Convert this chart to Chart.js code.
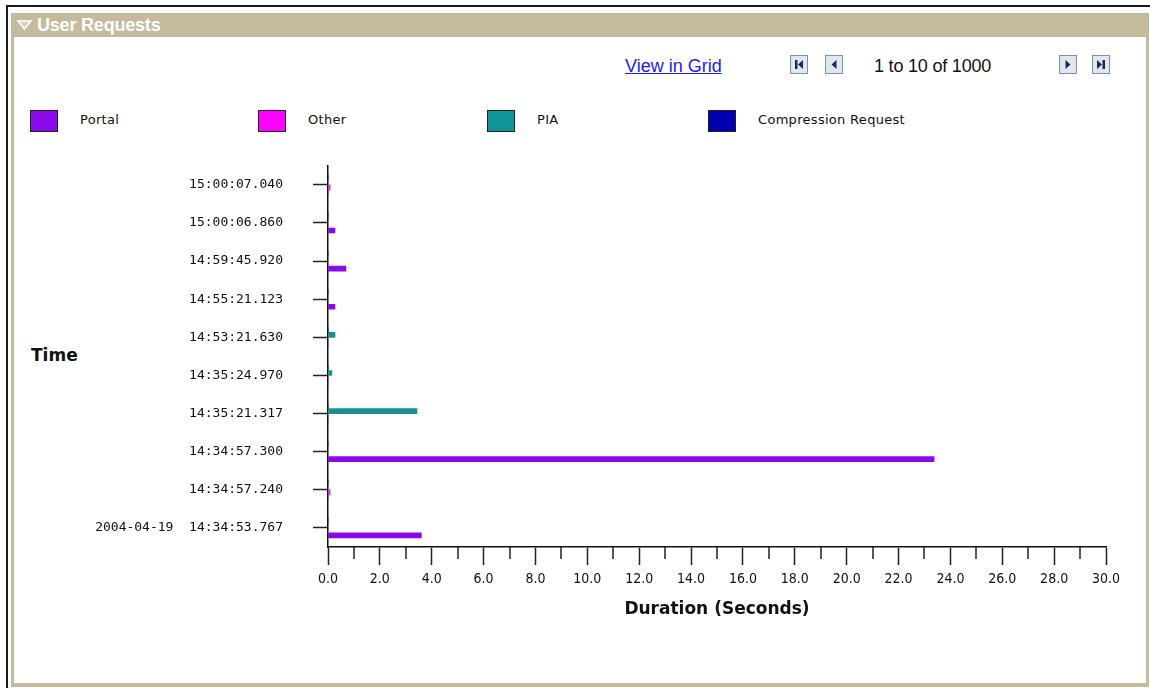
<!DOCTYPE html>
<html>
<head>
<meta charset="utf-8">
<script src="https://cdn.jsdelivr.net/npm/chart.js@4/dist/chart.umd.min.js"></script>
<style>
    body { margin: 0; width: 1150px; height: 688px; overflow: hidden; background: #fff; font-family: "Liberation Sans", Arial, sans-serif; }
    .frame { position: absolute; left: 6px; top: 5px; right: 0; bottom: 0; border-left: 2px solid #1a1a1a; border-top: 2px solid #1a1a1a; }
    .panel { position: absolute; left: 11px; top: 13px; width: 1138px; height: 674px; background: #c4bb9d; }
    .panel .inner { position: absolute; left: 3px; top: 24px; right: 3px; bottom: 4px; background: #fff; }
    .title { position: absolute; top: 15px; color: #fff; font-weight: bold; font-size: 18px; letter-spacing: -0.2px; }
    .tri { position: absolute; left: 16px; top: 18px; }
    .link { position: absolute; left: 625px; top: 56px; font-size: 18px; color: #1a1aff; text-decoration: underline; }
    .pager { position: absolute; top: 56px; font-size: 18px; color: #111; letter-spacing: -0.2px; }
    .btn { position: absolute; top: 55px; width: 16px; height: 17px; border: 1px solid #7f90a8; background: #dfe7f1; }
    .btn svg { position: absolute; left: 0; top: 0; }
    .legend-box { position: absolute; top: 110px; width: 26px; height: 20px; border: 1px solid #222; }
    .legend-text { position: absolute; top: 112px; font-family: "DejaVu Sans", sans-serif; font-size: 13px; color: #111; letter-spacing: 0.3px; }
    .ytitle { position: absolute; left: 31px; top: 345px; font-family: "DejaVu Sans", sans-serif; font-weight: bold; font-size: 17px; color: #111; }
    #wrap { position: absolute; left: 0; top: 128px; }
</style>
</head>
<body>
<div class="frame"></div>
<div class="panel"><div class="inner"></div></div>
<svg class="tri" width="18" height="14"><polygon points="2,3 15,3 8.5,11" fill="#d9d1b9" stroke="#fff" stroke-width="1.5"/></svg>
<div class="title" style="left:37px">User Requests</div>

<div class="link">View in Grid</div>
<div class="btn" style="left:790px"><svg width="16" height="17"><rect x="4" y="4" width="2.5" height="9" fill="#1c2b55"/><polygon points="12,4 12,13 7,8.5" fill="#1c2b55"/></svg></div>
<div class="btn" style="left:825px"><svg width="16" height="17"><polygon points="10.5,4 10.5,13 5.5,8.5" fill="#1c2b55"/></svg></div>
<div class="pager" style="left:874px">1 to 10 of 1000</div>
<div class="btn" style="left:1059px"><svg width="16" height="17"><polygon points="5.5,4 5.5,13 10.5,8.5" fill="#1c2b55"/></svg></div>
<div class="btn" style="left:1092px"><svg width="16" height="17"><polygon points="4,4 4,13 9,8.5" fill="#1c2b55"/><rect x="9.5" y="4" width="2.5" height="9" fill="#1c2b55"/></svg></div>

<div id="legend"></div>
<div class="ytitle">Time</div>

<div id="wrap"><canvas id="chart" width="1140" height="492"></canvas></div>

<script>
// data (durations in seconds)
const categories = ['15:00:07.040', '15:00:06.860', '14:59:45.920', '14:55:21.123', '14:53:21.630',
    '14:35:24.970', '14:35:21.317', '14:34:57.300', '14:34:57.240', '2004-04-19  14:34:53.767'];
const portal = [0, 0.27, 0.69, 0.27, 0, 0, 0, 23.37, 0, 3.6];
const other = [0.08, 0, 0, 0, 0, 0, 0, 0, 0.08, 0];
const pia = [0, 0, 0, 0, 0.27, 0.15, 3.43, 0, 0, 0];
const compression = [0, 0, 0, 0, 0, 0, 0, 0, 0, 0];
const xTicks = [0, 2, 4, 6, 8, 10, 12, 14, 16, 18, 20, 22, 24, 26, 28, 30];

// legend (left to right)
const legendItems = [
    { label: 'Portal', color: '#8a0aea', x: 30 },
    { label: 'Other', color: '#ff00ff', x: 258 },
    { label: 'PIA', color: '#0f9595', x: 487 },
    { label: 'Compression Request', color: '#0000b0', x: 708 }
];
let legendHtml = '';
legendItems.forEach(item => {
    legendHtml += '<div class="legend-box" style="left:' + item.x + 'px;background:' + item.color + '"></div>';
    legendHtml += '<div class="legend-text" style="left:' + (item.x + 50) + 'px">' + item.label + '</div>';
});
document.getElementById('legend').innerHTML = legendHtml;

// short ticks at odd seconds
const minorTicks = {
    id: 'minorTicks',
    afterDraw(chart) {
        const sx = chart.scales.x;
        const ctx = chart.ctx;
        ctx.save();
        ctx.strokeStyle = '#222';
        ctx.lineWidth = 1.5;
        for (let v = 1; v < 30; v += 2) {
            const px = Math.round(sx.getPixelForValue(v));
            ctx.beginPath();
            ctx.moveTo(px, sx.top);
            ctx.lineTo(px, sx.top + 12);
            ctx.stroke();
        }
        ctx.restore();
    }
};

new Chart(document.getElementById('chart'), {
    type: 'bar',
    data: {
        labels: categories,
        datasets: [
            { label: 'Compression Request', data: compression, backgroundColor: '#0000b0' },
            { label: 'PIA', data: pia, backgroundColor: '#1a9090' },
            { label: 'Other', data: other, backgroundColor: '#dd22ee' },
            { label: 'Portal', data: portal, backgroundColor: '#8a0ae6' }
        ]
    },
    options: {
        indexAxis: 'y',
        responsive: false,
        animation: false,
        barThickness: 5,
        layout: { padding: { top: 0, right: 34, bottom: 0, left: 0 } },
        plugins: {
            legend: { display: false },
            tooltip: { enabled: false }
        },
        scales: {
            y: {
                offset: true,
                grid: { offset: false, drawOnChartArea: false, tickLength: 15, tickWidth: 1.5, tickColor: '#222' },
                border: { color: '#111', width: 1.5 },
                ticks: { autoSkip: false, padding: 30, color: '#111', font: { family: 'DejaVu Sans Mono', size: 13 } },
                afterFit(scale) { scale.width = 328; }
            },
            x: {
                min: 0,
                max: 30,
                afterBuildTicks(scale) { scale.ticks = xTicks.map(v => ({ value: v })); },
                grid: { drawOnChartArea: false, tickLength: 18, tickWidth: 1.5, tickColor: '#222' },
                border: { color: '#111', width: 1.5 },
                ticks: {
                    padding: 6,
                    color: '#111',
                    font: { family: '"Liberation Sans Narrow", "DejaVu Sans Condensed", sans-serif', size: 14 },
                    callback: v => v.toFixed(1)
                },
                title: {
                    display: true,
                    text: 'Duration (Seconds)',
                    color: '#111',
                    padding: 0,
                    font: { family: 'DejaVu Sans', weight: 'bold', size: 17 }
                },
                afterFit(scale) { scale.height = 73; }
            }
        }
    },
    plugins: [minorTicks]
});
</script>
</body>
</html>
